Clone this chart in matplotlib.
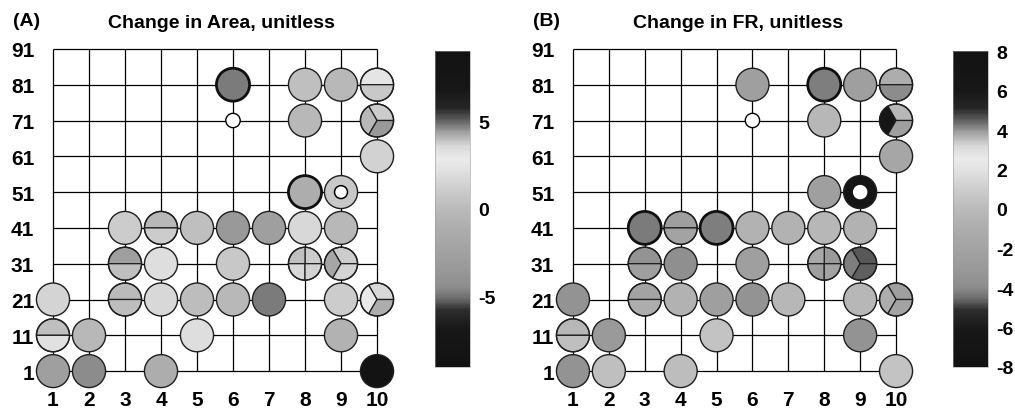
import matplotlib
matplotlib.use("Agg")
import matplotlib.pyplot as plt
from matplotlib.patches import Circle, Wedge
from matplotlib.colors import LinearSegmentedColormap, Normalize
from matplotlib.cm import ScalarMappable

plt.rcParams['font.family'] = ['Liberation Sans', 'DejaVu Sans']
plt.rcParams['axes.unicode_minus'] = False

# ---------------- data ----------------
col_labels = [1, 2, 3, 4, 5, 6, 7, 8, 9, 10]
row_labels = [1, 11, 21, 31, 41, 51, 61, 71, 81, 91]

site_cols = [6, 8, 9, 10,
             8, 10,
             10,
             8, 9,
             3, 4, 5, 6, 7, 8, 9,
             3, 4, 6, 8, 9,
             1, 3, 4, 5, 6, 7, 9, 10,
             1, 2, 5, 9,
             1, 2, 4, 10]
site_rows = [81, 81, 81, 81,
             71, 71,
             61,
             51, 51,
             41, 41, 41, 41, 41, 41, 41,
             31, 31, 31, 31, 31,
             21, 21, 21, 21, 21, 21, 21, 21,
             11, 11, 11, 11,
             1, 1, 1, 1]

# Panel A: change in area (one value per sector of each site)
area_vals = [[-4.8], [0.3], [-0.2], [2.5, 0.8],
             [-0.2], [1.1, -0.2, -3.4],
             [1.35],
             [-1.1], [0.8],
             [1.1], [-0.2, 1.1], [0.3], [-3.4], [-2.8], [1.75], [-0.2],
             [-2.8, 0.3], [2.0], [0.8], [1.1, 0.3, 1.75, 1.35], [1.1, -1.9, 1.5],
             [1.5], [0.0, 0.15], [1.75], [0.15], [-0.2], [-4.8], [1.1], [1.75, 2.9, -1.1],
             [0.3, 2.2], [-0.2], [2.0], [-0.65],
             [-2.8], [-4.5], [-1.1], [-8.5]]

# Panel B: change in FR
fr_vals = [[-2.5], [-4.2], [-2.5], [-1.0, -4.0],
           [-0.2], [-0.2, -6.5, -2.5],
           [-1.7],
           [-2.5], [-7.0],
           [-4.3], [-2.5, -2.0], [-4.2], [-0.6], [-0.6], [-0.2], [-0.6],
           [-3.5, -2.5], [-3.8], [-2.5], [-3.0, -1.45, -2.5, -2.0], [-4.7, -4.2, -4.65],
           [-3.5], [-2.0, -1.0], [-0.6], [-2.5], [-3.5], [-0.2], [-0.2], [-2.5, -1.0, -2.0],
           [-0.2, 0.3], [-3.0], [0.45], [-3.5],
           [-3.5], [0.3], [0.15], [0.45]]

empty_site = (6, 71)
ring_site = (9, 51)
thick_A = [(6, 81), (8, 51)]
thick_B = [(8, 81), (3, 41), (5, 41)]

range_A = (-9, 9)
range_B = (-8, 8)
ticks_A = [-5, 0, 5]
ticks_B = [-8, -6, -4, -2, 0, 2, 4, 6, 8]

# grayscale version of the colour scale
gray_nodes = [(0.00, 0.07), (0.12, 0.09), (0.18, 0.18), (0.215, 0.42), (0.25, 0.55),
              (0.31, 0.60), (0.375, 0.64), (0.44, 0.68), (0.50, 0.73), (0.56, 0.80),
              (0.62, 0.88), (0.66, 0.92), (0.70, 0.85), (0.745, 0.62), (0.785, 0.35),
              (0.82, 0.15), (0.88, 0.09), (1.00, 0.07)]
cmap = LinearSegmentedColormap.from_list('gray_jet', [(p, (g, g, g)) for p, g in gray_nodes])

# ---------------- figure ----------------
W, H = 1015, 410
fig = plt.figure(figsize=(W / 100, H / 100), dpi=100)

R = 0.46
EDGE = '#1e1e1e'
TICK_FS = 15


def px_box(x0, y0, x1, y1):
    return [x0 / W, 1 - y1 / H, (x1 - x0) / W, (y1 - y0) / H]


def draw_panel(ax, vals, vrange, thick, ring_edge):
    norm = Normalize(*vrange)
    ax.set_xlim(0.5, 10.5)
    ax.set_ylim(0.5, 10.5)
    for s in ax.spines.values():
        s.set_visible(False)
    # grid
    for c in range(1, 11):
        ax.plot([c, c], [1, 10], color='black', lw=0.9, zorder=1, solid_capstyle='butt')
    for r in range(1, 11):
        ax.plot([1, 10], [r, r], color='black', lw=0.9, zorder=1, solid_capstyle='butt')
    ax.set_xticks(range(1, 11))
    ax.set_xticklabels([str(c) for c in col_labels])
    ax.set_yticks(range(1, 11))
    ax.set_yticklabels([str(r) for r in row_labels])
    ax.tick_params(axis='both', length=0, labelsize=TICK_FS)
    ax.tick_params(axis='x', pad=0.5)
    ax.tick_params(axis='y', pad=0.5)
    for lab in ax.get_xticklabels() + ax.get_yticklabels():
        lab.set_fontweight('bold')

    # empty site marker
    ex, ey = empty_site
    ax.add_patch(Circle((ex, row_labels.index(ey) + 1), 0.2, facecolor='white',
                        edgecolor='black', lw=1.0, zorder=3, clip_on=False))

    for c, r, v in zip(site_cols, site_rows, vals):
        x = c
        y = row_labels.index(r) + 1
        is_thick = (c, r) in thick
        lw = 2.0 if is_thick else 1.0
        ec = '#101010' if is_thick else EDGE
        n = len(v)
        if n == 1:
            ax.add_patch(Circle((x, y), R, facecolor=cmap(norm(v[0])), edgecolor=ec,
                                lw=lw, zorder=3, clip_on=False))
        else:
            step = 360.0 / n
            for k, val in enumerate(v):
                ax.add_patch(Wedge((x, y), R, k * step, (k + 1) * step,
                                   facecolor=cmap(norm(val)), edgecolor=EDGE, lw=0.9,
                                   zorder=3, clip_on=False))
            ax.add_patch(Circle((x, y), R, facecolor='none', edgecolor=ec, lw=lw,
                                zorder=4, clip_on=False))
        if (c, r) == ring_site:
            ax.add_patch(Circle((x, y), 0.18, facecolor='white',
                                edgecolor=ring_edge, lw=1.1, zorder=5, clip_on=False))
    return norm


def draw_cbar(box, norm, ticks):
    cax = fig.add_axes(box)
    cb = fig.colorbar(ScalarMappable(norm=norm, cmap=cmap), cax=cax, ticks=ticks)
    cb.outline.set_linewidth(0.4)
    cb.outline.set_edgecolor('#999999')
    cax.tick_params(length=0, pad=6, labelsize=14)
    cb.set_ticklabels([str(t) for t in ticks])
    for lab in cax.get_yticklabels():
        lab.set_fontweight('bold')


axA = fig.add_axes(px_box(35, 32, 395, 390))
normA = draw_panel(axA, area_vals, range_A, thick_A, 'black')
draw_cbar(px_box(435, 52, 470, 368), normA, ticks_A)

axB = fig.add_axes(px_box(555, 32, 914, 390))
normB = draw_panel(axB, fr_vals, range_B, thick_B, 'white')
draw_cbar(px_box(953, 52, 988, 368), normB, ticks_B)

fig.text(13 / W, 1 - 26 / H, '(A)', fontsize=14, fontweight='bold', ha='left', va='baseline')
fig.text(221 / W, 1 - 28 / H, 'Change in Area, unitless', fontsize=14, fontweight='bold',
         ha='center', va='baseline')
fig.text(533 / W, 1 - 26 / H, '(B)', fontsize=14, fontweight='bold', ha='left', va='baseline')
fig.text(738 / W, 1 - 28 / H, 'Change in FR, unitless', fontsize=14, fontweight='bold',
         ha='center', va='baseline')

fig.savefig('out.png', dpi=100)
